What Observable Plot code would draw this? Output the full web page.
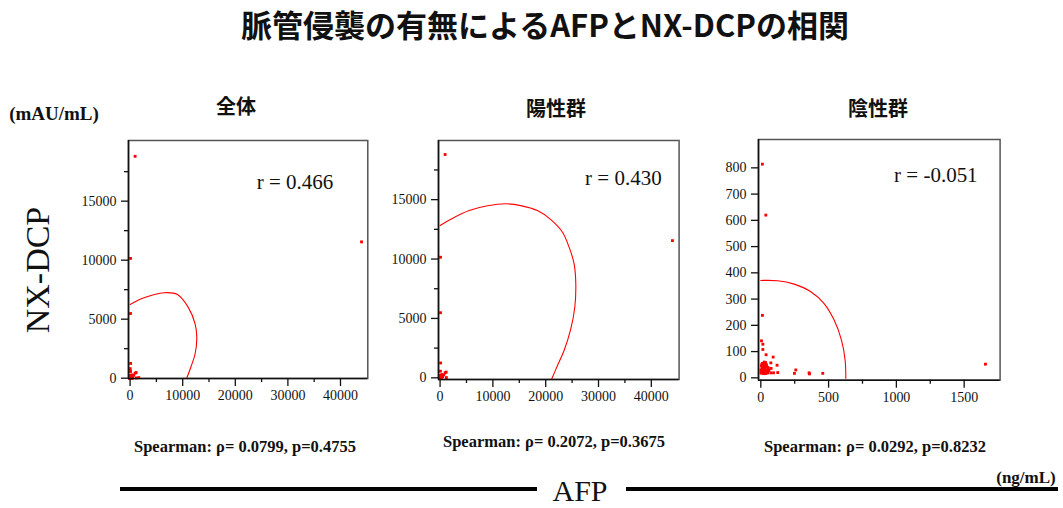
<!DOCTYPE html>
<html>
<head>
<meta charset="utf-8">
<script src="https://cdn.jsdelivr.net/npm/d3@7"></script>
<script src="https://cdn.jsdelivr.net/npm/@observablehq/plot@0.6"></script>
<style>
  body { margin: 0; background: #fff; }
  #chart { position: relative; width: 1063px; height: 508px; overflow: hidden; font-family: "Liberation Serif", "Times New Roman", serif; color: #111; }
  .t { position: absolute; white-space: nowrap; line-height: 1; }
  .c { transform: translate(-50%, -50%); }
  .jp { font-family: "Noto Sans CJK JP", "Noto Sans", sans-serif; font-weight: 700; }
  .b { font-weight: 700; }
  .bar { position: absolute; background: #000; }
</style>
</head>
<body>
<div id="chart"></div>
<script>
// AFP (ng/mL), NX-DCP (mAU/mL) per patient, vascular invasion positive
const positive = [
  [950, 18800], [44000, 11550], [80, 10150], [80, 5480], [100, 1250],
  [60, 560], [950, 420], [1150, 480], [320, 280], [1200, 20],
  [40, 60], [150, 150], [20, 30], [500, 100], [30, 200],
  [10, 20], [200, 40], [700, 250], [80, 90], [5, 10], [300, 15]
];

// vascular invasion negative
const negative = [
  [12, 814], [37, 620], [12, 238], [1657, 52], [5, 141], [15, 128], [15, 108],
  [39, 88], [91, 79], [74, 57], [120, 48], [76, 36], [258, 30], [248, 17],
  [356, 19], [359, 15], [457, 17], [125, 20], [94, 19], [74, 19],
  [2, 20], [5, 25], [8, 30], [10, 35], [12, 40], [15, 45], [18, 50], [20, 55],
  [25, 60], [3, 18], [6, 22], [9, 28], [14, 32], [17, 38], [22, 42], [26, 48],
  [30, 52], [35, 58], [40, 30], [45, 25], [50, 20], [55, 35], [28, 20], [32, 25],
  [4, 45], [7, 50], [11, 55], [16, 18], [19, 24], [23, 28], [27, 33], [31, 38],
  [36, 44], [42, 50], [48, 18], [52, 40], [1, 30], [13, 22], [21, 16], [33, 16], [60, 28]
];

const allPatients = positive.concat(negative);

// density ellipse outlines (positive quadrant part)
const ellipseAll = [
  [0, 6246], [2660, 6810], [6460, 7240], [9000, 7090], [11030, 6020],
  [12360, 4610], [12680, 3480], [12360, 2070], [11540, 930], [10720, -50]
];
const ellipsePos = [
  [0, 12820], [2030, 13350], [5500, 14080], [8970, 14480], [12440, 14650],
  [15280, 14500], [18440, 14080], [20970, 13320], [23180, 12260], [24430, 11000],
  [25380, 9600], [25700, 7910], [25510, 5940], [24750, 4120], [23480, 2300],
  [22230, 1040], [21100, -140]
];
const ellipseNeg = [
  [0, 371], [123, 370], [246, 357], [369, 328], [467, 283],
  [541, 220], [595, 144], [622, 67], [627, -2]
];

const panelTitles = ["全体", "陽性群", "陰性群"];
const rLabels = ["r = 0.466", "r = 0.430", "r = -0.051"];
const spearmanLabels = [
  "Spearman: ρ= 0.0799, p=0.4755",
  "Spearman: ρ= 0.2072, p=0.3675",
  "Spearman: ρ= 0.0292, p=0.8232"
];

const afpTicksWide = [0, 10000, 20000, 30000, 40000];
const afpMinorWide = [5000, 15000, 25000, 35000];
const dcpTicksWide = [0, 5000, 10000, 15000];
const dcpMinorWide = [2500, 7500, 12500, 17500];
const afpTicksNeg = [0, 500, 1000, 1500];
const afpMinorNeg = [250, 750, 1250];
const dcpTicksNeg = [0, 100, 200, 300, 400, 500, 600, 700, 800];

const chart = document.getElementById("chart");

function addText(str, cls, css) {
  const el = document.createElement("div");
  el.className = "t " + cls;
  el.textContent = str;
  Object.assign(el.style, css);
  chart.appendChild(el);
  return el;
}

const panels = [
  {
    frame: {left: 127.7, top: 140, right: 367, bottom: 378},
    xDomain: [-304, 45190], yDomain: [-25, 20140],
    points: allPatients, ellipse: ellipseAll,
    xTicks: afpTicksWide, xMinor: afpMinorWide, yTicks: dcpTicksWide, yMinor: dcpMinorWide,
    r: rLabels[0], rdx: 128.3, rdy: 34,
    title: panelTitles[0], titlePos: [236, 106],
    spearman: spearmanLabels[0], spearmanPos: [245, 447]
  },
  {
    frame: {left: 437.7, top: 140, right: 678.3, bottom: 379},
    xDomain: [-300, 45260], yDomain: [-140, 19980],
    points: positive, ellipse: ellipsePos,
    xTicks: afpTicksWide, xMinor: afpMinorWide, yTicks: dcpTicksWide, yMinor: dcpMinorWide,
    r: rLabels[1], rdx: 146.6, rdy: 30,
    title: panelTitles[1], titlePos: [556, 108],
    spearman: spearmanLabels[1], spearmanPos: [554, 442]
  },
  {
    frame: {left: 757.7, top: 139.3, right: 999.3, bottom: 380},
    xDomain: [-17, 1765], yDomain: [-9, 908],
    points: negative, ellipse: ellipseNeg,
    xTicks: afpTicksNeg, xMinor: afpMinorNeg, yTicks: dcpTicksNeg, yMinor: [],
    r: rLabels[2], rdx: 135.6, rdy: 27.7,
    title: panelTitles[2], titlePos: [878, 108],
    spearman: spearmanLabels[2], spearmanPos: [875, 447]
  }
];

const fmt = d3.format("d");

for (const p of panels) {
  const f = p.frame;
  const mL = 62, mT = 12, mR = 14, mB = 34;
  const svg = Plot.plot({
    width: f.right - f.left + mL + mR,
    height: f.bottom - f.top + mT + mB,
    marginLeft: mL, marginTop: mT, marginRight: mR, marginBottom: mB,
    x: {domain: p.xDomain},
    y: {domain: p.yDomain},
    style: {
      fontFamily: '"Liberation Serif", "Times New Roman", serif',
      fontSize: "14px", color: "#111", background: "transparent", overflow: "visible"
    },
    marks: [
      Plot.frame({stroke: "#555", strokeWidth: 1.5}),
      Plot.line(p.ellipse, {x: d => d[0], y: d => d[1], stroke: "#ff0000", strokeWidth: 1.1, curve: "catmull-rom", clip: true}),
      Plot.dot(p.points, {x: d => d[0], y: d => d[1], symbol: "square", r: 1.6, fill: "#ff0000", stroke: "none"}),
      Plot.ruleX([p.xDomain[0]], {stroke: "#111", strokeWidth: 1.6}),
      Plot.ruleY([p.yDomain[0]], {stroke: "#111", strokeWidth: 1.6}),
      Plot.axisX({ticks: p.xTicks, tickSize: 8, tickPadding: 4, tickFormat: fmt, label: null, stroke: "#111", strokeWidth: 1.3}),
      Plot.axisX({ticks: p.xMinor, tickSize: 4, tickFormat: () => "", label: null, stroke: "#111", strokeWidth: 1.3}),
      Plot.axisY({ticks: p.yTicks, tickSize: 7, tickPadding: 5, tickFormat: fmt, label: null, stroke: "#111", strokeWidth: 1.3}),
      Plot.axisY({ticks: p.yMinor, tickSize: 4, tickFormat: () => "", label: null, stroke: "#111", strokeWidth: 1.3}),
      Plot.text([p.r], {text: d => d, frameAnchor: "top-left", dx: p.rdx, dy: p.rdy, textAnchor: "start", fontSize: 21, fill: "#111"})
    ]
  });
  svg.style.position = "absolute";
  svg.style.left = (f.left - mL) + "px";
  svg.style.top = (f.top - mT) + "px";
  chart.appendChild(svg);

  addText(p.title, "c jp", {left: p.titlePos[0] + "px", top: p.titlePos[1] + "px", fontSize: "20px"});
  addText(p.spearman, "c b", {left: p.spearmanPos[0] + "px", top: p.spearmanPos[1] + "px", fontSize: "16.5px"});
}

// headings and shared axis titles
addText("脈管侵襲の有無によるAFPとNX-DCPの相関", "c jp", {left: "545px", top: "23px", fontSize: "31px"});
addText("(mAU/mL)", "c b", {left: "54px", top: "113px", fontSize: "19px"});
addText("NX-DCP", "c", {left: "37.5px", top: "270px", fontSize: "34px", transform: "translate(-50%, -50%) rotate(-90deg)"});
addText("(ng/mL)", "c b", {left: "1026px", top: "477px", fontSize: "17px"});
addText("AFP", "c", {left: "580px", top: "491px", fontSize: "30px"});

const barL = document.createElement("div");
barL.className = "bar";
Object.assign(barL.style, {left: "120px", top: "487px", width: "417px", height: "4px"});
chart.appendChild(barL);
const barR = document.createElement("div");
barR.className = "bar";
Object.assign(barR.style, {left: "626px", top: "487px", width: "432px", height: "4px"});
chart.appendChild(barR);
</script>
</body>
</html>
